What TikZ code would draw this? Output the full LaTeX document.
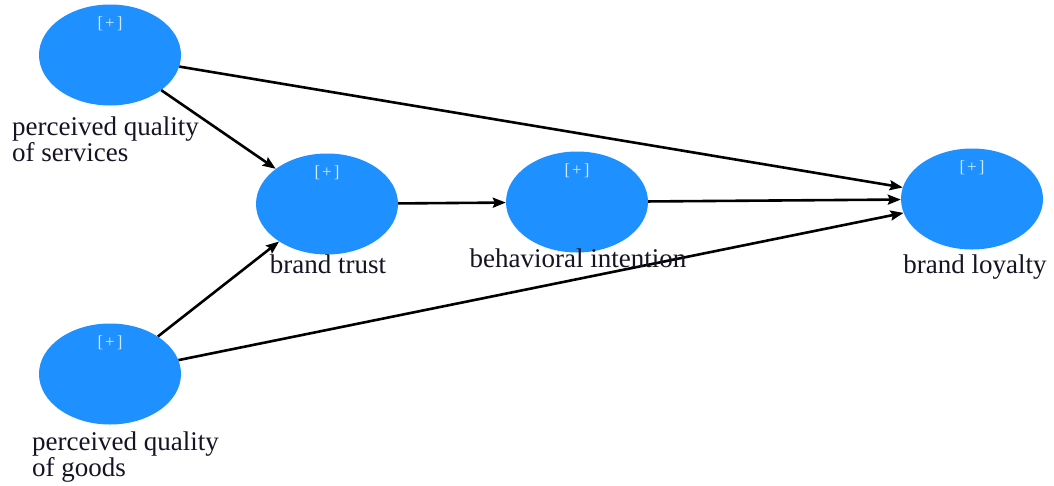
\documentclass[tikz,border=0pt]{standalone}
\usepackage{fontspec}
\setmainfont{Liberation Serif}
\usetikzlibrary{shapes.geometric,arrows.meta}
\definecolor{nodeblue}{RGB}{30,144,255}
\definecolor{plusblue}{RGB}{205,232,255}
\definecolor{labelink}{RGB}{20,20,35}
\begin{document}
\begin{tikzpicture}[x=1pt,y=-1pt,
  latent/.style={ellipse, fill=nodeblue, draw=none, minimum width=142pt, minimum height=101pt, inner sep=0pt},
  plus/.style={text=plusblue, font=\fontsize{17}{17}\selectfont, inner sep=0pt},
  lbl/.style={font=\fontsize{27}{26}\selectfont, inner sep=0pt, text=labelink},
  link/.style={draw=black, line width=2.6pt, -{Stealth[length=13pt,width=10pt,inset=2pt]}}]
\useasboundingbox (0,0) rectangle (1054,485);
\fill[white] (0,0) rectangle (1054,485);

\node[latent] (pqs) at (110,55) {};
\node[latent] (bt) at (327,204) {};
\node[latent] (bi) at (577,202) {};
\node[latent] (bl) at (972,199) {};
\node[latent] (pqg) at (110,374) {};

\node[plus] (ppqs) at ([yshift=31pt]pqs.center) {[\kern2pt+\kern2pt]};
\node[plus] (pbt) at ([yshift=31pt]bt.center) {[\kern2pt+\kern2pt]};
\node[plus] (pbi) at ([yshift=31pt]bi.center) {[\kern2pt+\kern2pt]};
\node[plus] (pbl) at ([yshift=31pt]bl.center) {[\kern2pt+\kern2pt]};
\node[plus] (ppqg) at ([yshift=31pt]pqg.center) {[\kern2pt+\kern2pt]};

\draw[link] (pqs) -- (bl);
\draw[link] (pqs) -- (bt);
\draw[link] (pqg) -- (bt);
\draw[link] (pqg) -- (bl);
\draw[link] (bt) -- (bi);
\draw[link] (bi) -- (bl);

\node[lbl, align=left, anchor=north west] (lpqs) at (12,116.6) {perceived quality\\of services};
\node[lbl, anchor=base] (lbt) at (328,273) {brand trust};
\node[lbl, anchor=base] (lbi) at (578,267) {behavioral intention};
\node[lbl, anchor=base] (lbl) at (975,273) {brand loyalty};
\node[lbl, align=left, anchor=north west] (lpqg) at (32,431.6) {perceived quality\\of goods};
\end{tikzpicture}
\end{document}
